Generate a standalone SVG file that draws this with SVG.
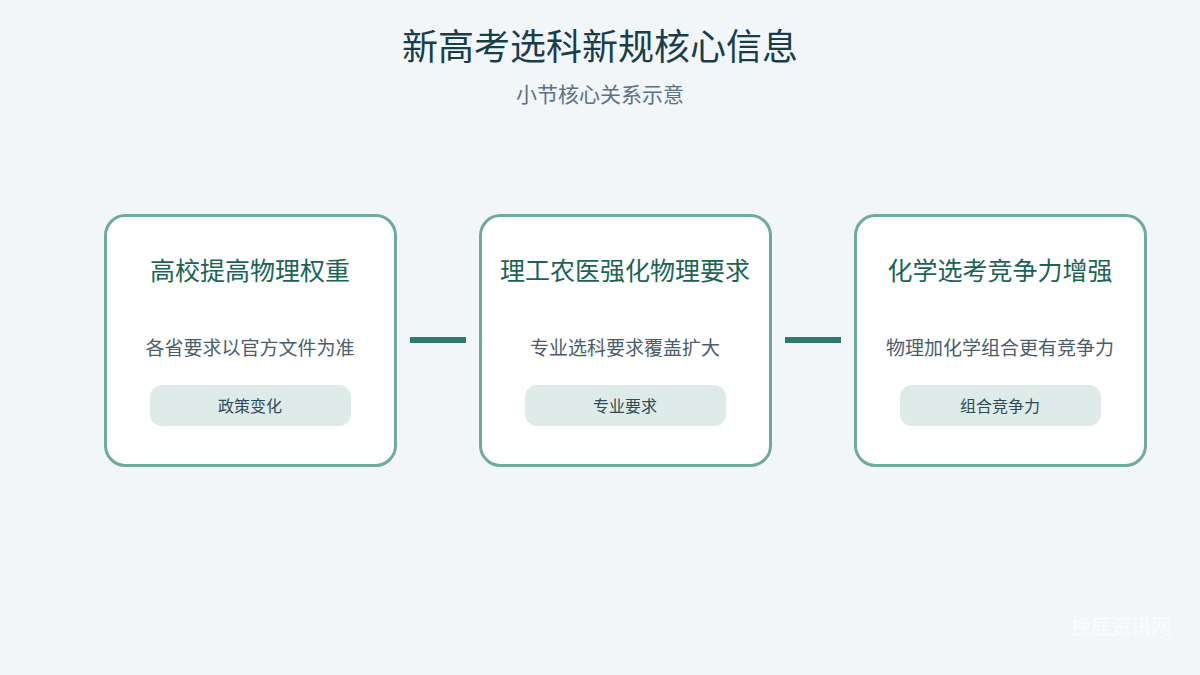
<svg xmlns="http://www.w3.org/2000/svg" width="1200" height="675" viewBox="0 0 1200 675">
<style>
text{font-family:"Noto Sans CJK SC","Noto Sans",sans-serif;text-anchor:middle}
.title{font-size:36px;font-weight:400;fill:#183e4b}
.sub{font-size:21px;fill:#5b7282}
.card{fill:#ffffff;stroke:#6eaa9e;stroke-width:3}
.ct{font-size:25px;font-weight:400;fill:#1b6455}
.cd{font-size:19px;fill:#4b5d6a}
.pill{fill:#deebe8}
.pt{font-size:16px;fill:#2c4b56}
.conn{fill:#2f7a6f}
.wm{font-size:20px;fill:#ffffff;fill-opacity:0.7}
</style>
<rect width="1200" height="675" fill="#f2f6f9"/>
<text class="title" x="600" y="60">新高考选科新规核心信息</text>
<text class="sub" x="600" y="102">小节核心关系示意</text>
<g id="connectors">
<rect class="conn" x="410" y="337" width="56" height="6"/>
<rect class="conn" x="785" y="337" width="56" height="6"/>
</g>
<g id="node1">
<rect class="card" x="105.5" y="215.5" width="290" height="250" rx="20"/>
<text class="ct" x="250" y="280">高校提高物理权重</text>
<text class="cd" x="250" y="355">各省要求以官方文件为准</text>
<rect class="pill" x="150" y="385" width="201" height="41" rx="12"/>
<text class="pt" x="250" y="412">政策变化</text>
</g>
<g id="node2">
<rect class="card" x="480.5" y="215.5" width="290" height="250" rx="20"/>
<text class="ct" x="625" y="280">理工农医强化物理要求</text>
<text class="cd" x="625" y="355">专业选科要求覆盖扩大</text>
<rect class="pill" x="525" y="385" width="201" height="41" rx="12"/>
<text class="pt" x="625" y="412">专业要求</text>
</g>
<g id="node3">
<rect class="card" x="855.5" y="215.5" width="290" height="250" rx="20"/>
<text class="ct" x="1000" y="280">化学选考竞争力增强</text>
<text class="cd" x="1000" y="355">物理加化学组合更有竞争力</text>
<rect class="pill" x="900" y="385" width="201" height="41" rx="12"/>
<text class="pt" x="1000" y="412">组合竞争力</text>
</g>
<text class="wm" x="1121" y="634">挽鹿资讯网</text>
</svg>
